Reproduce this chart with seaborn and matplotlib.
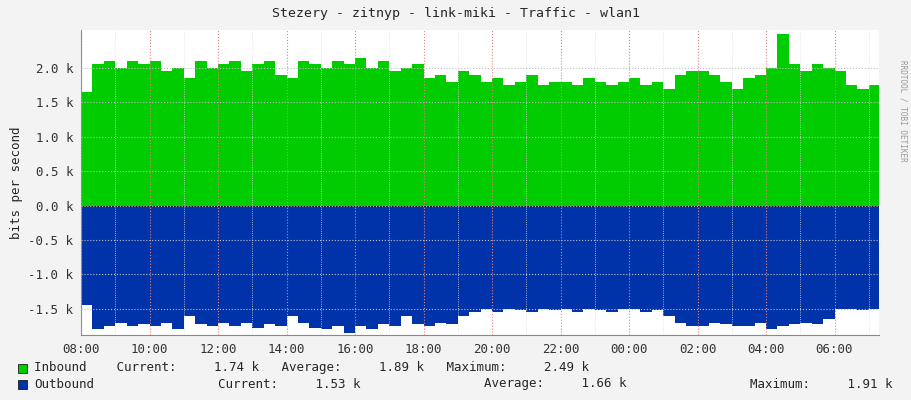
import numpy as np
import pandas as pd
import matplotlib
matplotlib.use("Agg")
import matplotlib.pyplot as plt
import seaborn as sns

sns.set_style("white")
plt.rcParams['font.family'] = ['DejaVu Sans Mono']

inbound = [1.65,2.05,2.1,2.0,2.1,2.05, 2.1,1.95,2.0,1.85,2.1,2.0, 2.05,2.1,1.95,2.05,2.1,1.9,
           1.85,2.1,2.05,2.0,2.1,2.05, 2.15,2.0,2.1,1.95,2.0,2.05, 1.85,1.9,1.8,1.95,1.9,1.8,
           1.85,1.75,1.8,1.9,1.75,1.8, 1.8,1.75,1.85,1.8,1.75,1.8, 1.85,1.75,1.8,1.7,1.9,1.95,
           1.95,1.9,1.8,1.7,1.85,1.9, 2.0,2.49,2.05,1.95,2.05,2.0, 1.95,1.75,1.7,1.75,1.7,1.74]
outbound = [1.45,1.8,1.75,1.7,1.75,1.72, 1.75,1.7,1.8,1.6,1.72,1.75, 1.7,1.75,1.7,1.78,1.72,1.75,
            1.6,1.7,1.78,1.8,1.75,1.85, 1.75,1.8,1.72,1.75,1.6,1.72, 1.75,1.7,1.72,1.6,1.55,1.5,
            1.55,1.5,1.52,1.55,1.5,1.52, 1.5,1.55,1.5,1.52,1.55,1.5, 1.5,1.55,1.52,1.6,1.7,1.75,
            1.75,1.7,1.72,1.75,1.75,1.7, 1.8,1.75,1.72,1.7,1.72,1.65, 1.5,1.5,1.52,1.5,1.53,1.53]
tick_labels = ["08:00","10:00","12:00","14:00","16:00","18:00","20:00","22:00",
               "00:00","02:00","04:00","06:00"]
y_ticks = [-1.5,-1.0,-0.5,0.0,0.5,1.0,1.5,2.0]

hours = np.arange(len(inbound)) / 3.0
df = pd.DataFrame({"h": hours, "in": inbound, "out": [-v for v in outbound]})
xe = np.append(hours, hours[-1] + 1/3)

fig = plt.figure(figsize=(9.11, 4.0), dpi=100, facecolor="#F3F3F3")
ax = fig.add_axes([81/911, 1-335/400, (879-81)/911, (335-30)/400])
ax.set_facecolor("white")
ax.stairs(df["in"], xe, baseline=0, fill=True, color="#00CC00")
ax.stairs(df["out"], xe, baseline=0, fill=True, color="#0033AA")
sns.lineplot(x=[0, 24], y=[0, 0], ax=ax, color="black", linewidth=0.5)
ax.set_xlim(0, (879-81)/822*24)
ax.set_ylim(-1.88, 2.55)
ax.set_xticks(np.arange(0, 24, 2))
ax.set_xticklabels(tick_labels)
ax.set_yticks(y_ticks)
ax.set_yticklabels([f"{v:.1f} k" for v in y_ticks])
ax.set_xticks(np.arange(0, 24, 1), minor=True)
ax.grid(True, axis="x", which="major", color="#E08080", linestyle=":", linewidth=0.8)
ax.grid(True, axis="y", color="#C0C0C0", linestyle=":", linewidth=0.8)
ax.grid(True, axis="x", which="minor", color="#DDDDDD", linestyle=":", linewidth=0.6)
ax.set_axisbelow(False)
for s in ["top", "right"]:
    ax.spines[s].set_visible(False)
for s in ["left", "bottom"]:
    ax.spines[s].set_color("#888888")
ax.tick_params(labelsize=9, length=2, colors="#333333")
ax.set_ylabel("bits per second", fontsize=9)
fig.text(0.5, 1-14/400, "Stezery - zitnyp - link-miki - Traffic - wlan1", ha="center", va="center", fontsize=9.5)
fig.text(903/911, 0.85, "RRDTOOL / TOBI OETIKER", rotation=270, fontsize=5.5, color="#999999", ha="center", va="top")
fig.patches.append(plt.Rectangle((18/911, 1-373/400), 9/911, 9/400, transform=fig.transFigure, facecolor="#00CC00", edgecolor="black", lw=0.5))
fig.patches.append(plt.Rectangle((18/911, 1-389/400), 9/911, 9/400, transform=fig.transFigure, facecolor="#0033AA", edgecolor="black", lw=0.5))
fig.text(34/911, 1-368/400, "Inbound    Current:     1.74 k   Average:     1.89 k   Maximum:     2.49 k", fontsize=9, va="center")
fig.text(34/911, 1-384/400, "Outbound", fontsize=9, va="center")
fig.text(218/911, 1-384/400, "Current:     1.53 k", fontsize=9, va="center")
fig.text(484/911, 1-384/400, "Average:     1.66 k", fontsize=9, va="center")
fig.text(750/911, 1-384/400, "Maximum:     1.91 k", fontsize=9, va="center")
fig.savefig("out.png", dpi=100, facecolor=fig.get_facecolor())
